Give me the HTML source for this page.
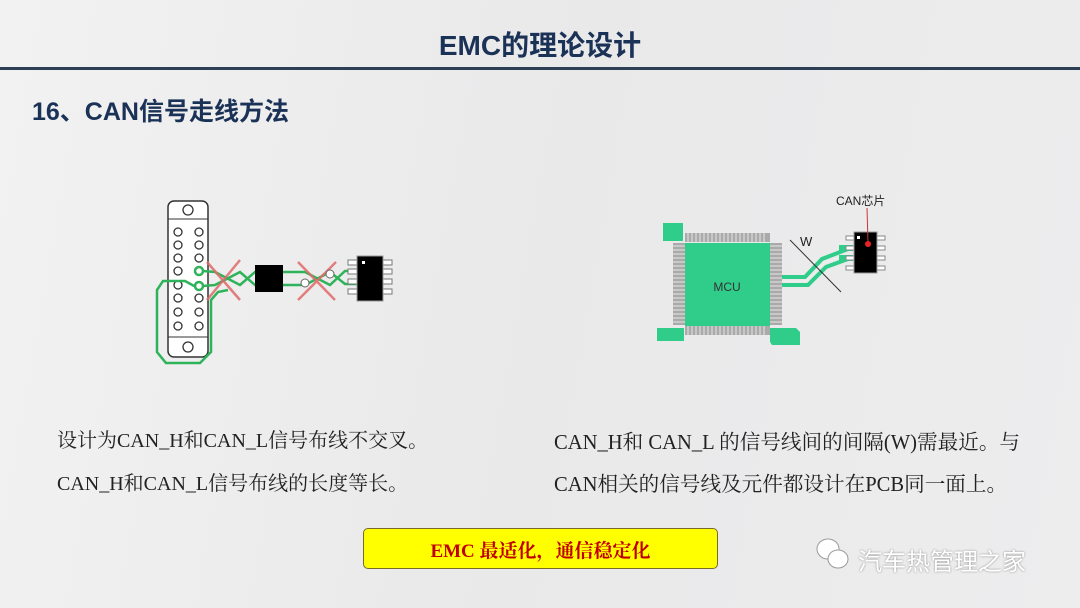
<!DOCTYPE html>
<html><head><meta charset="utf-8"><style>
body{margin:0;width:1080px;height:608px;overflow:hidden;background:linear-gradient(100deg,#f2f2f2 0%,#e9e9ea 50%,#ededee 100%);position:relative;font-family:"Liberation Sans","Noto Sans CJK SC",sans-serif}
.t{position:absolute;white-space:nowrap}
.ser{font-family:"Liberation Serif","Noto Serif CJK SC",serif;font-size:20px;color:#222}
</style></head><body>
<div class="t" style="left:0;width:1080px;top:24px;text-align:center;font-size:28px;font-weight:bold;color:#1b3257">EMC的理论设计</div>
<div style="position:absolute;left:0;top:67px;width:1080px;height:3px;background:#2d3f55"></div>
<div class="t" style="left:32px;top:92px;font-size:25px;font-weight:bold;color:#1b3257">16、CAN信号走线方法</div>
<div class="t ser" style="left:57px;top:424px">设计为CAN_H和CAN_L信号布线不交叉。</div>
<div class="t ser" style="left:57px;top:467px">CAN_H和CAN_L信号布线的长度等长。</div>
<div class="t ser" style="left:554px;top:425px;font-size:20.6px">CAN_H和 CAN_L 的信号线间的间隔(W)需最近。与</div>
<div class="t ser" style="left:554px;top:467px;font-size:20.6px">CAN相关的信号线及元件都设计在PCB同一面上。</div>
<div style="position:absolute;left:363px;top:528px;width:355px;height:41px;background:#ffff00;border:1px solid #7a6a2a;border-radius:5px;box-sizing:border-box"></div>
<div class="t" style="left:363px;top:536px;width:355px;text-align:center;font-family:'Liberation Serif','Noto Serif CJK SC',serif;font-size:19px;font-weight:bold;color:#c00000">EMC 最适化，通信稳定化</div>
<div class="t" style="left:858px;top:542px;font-size:24px;color:#fff;text-shadow:0 0 2px #888">汽车热管理之家</div>
<svg style="position:absolute;left:0;top:0" width="1080" height="608">
<g fill="#fff" stroke="#999" stroke-width="1"><ellipse cx="828" cy="549" rx="11" ry="10"/><ellipse cx="838" cy="559" rx="10" ry="9"/></g>
<rect x="168" y="201" width="40" height="156" rx="6" fill="#fff" stroke="#333" stroke-width="1.5"/>
<line x1="168" y1="219" x2="208" y2="219" stroke="#333"/><line x1="168" y1="337" x2="208" y2="337" stroke="#333"/>
<g fill="none" stroke="#333" stroke-width="1.3">
<circle cx="188" cy="210" r="5"/><circle cx="188" cy="347" r="5"/>
<circle cx="178" cy="232" r="4"/><circle cx="199" cy="232" r="4"/>
<circle cx="178" cy="245" r="4"/><circle cx="199" cy="245" r="4"/>
<circle cx="178" cy="258" r="4"/><circle cx="199" cy="258" r="4"/>
<circle cx="178" cy="271" r="4"/>
<circle cx="178" cy="285" r="4"/>
<circle cx="178" cy="298" r="4"/><circle cx="199" cy="298" r="4"/>
<circle cx="178" cy="312" r="4"/><circle cx="199" cy="312" r="4"/>
<circle cx="178" cy="326" r="4"/><circle cx="199" cy="326" r="4"/>
</g>
<g fill="none" stroke="#2fb35a" stroke-width="2.5">
<circle cx="199" cy="271" r="4"/><circle cx="199" cy="286" r="4"/>
<path d="M203 271 L215 272 L240 285 L255 272 L290 272 L305 272 L330 285 L345 271 L357 271"/>
<path d="M203 286 L215 285 L240 272 L255 285 L290 285 L305 285 L330 272 L345 284 L357 284"/>
<path d="M196 287 L185 281 L163 281 L157 290 L157 352 L166 363 L200 363 L211 352 L211 300 L218 292 L228 290"/>
</g>
<g stroke="#e06a6a" stroke-width="2.5" opacity="0.85"><line x1="207" y1="262" x2="240" y2="300"/><line x1="240" y1="260" x2="207" y2="300"/><line x1="298" y1="262" x2="335" y2="300"/><line x1="336" y1="262" x2="298" y2="300"/></g>
<g fill="#fff" stroke="#666"><circle cx="330" cy="274" r="4"/><circle cx="305" cy="283" r="4"/></g>
<rect x="255" y="265" width="28" height="27" fill="#000"/>
<g fill="#fff" stroke="#777"><rect x="348" y="260" width="9" height="5"/><rect x="348" y="269" width="9" height="5"/><rect x="348" y="279" width="9" height="5"/><rect x="348" y="289" width="9" height="5"/><rect x="383" y="260" width="9" height="5"/><rect x="383" y="269" width="9" height="5"/><rect x="383" y="279" width="9" height="5"/><rect x="383" y="289" width="9" height="5"/></g>
<rect x="357" y="256" width="26" height="45" fill="#000" stroke="#999"/>
<rect x="362" y="261" width="3" height="3" fill="#fff"/>
<g fill="#aaa"><rect x="685" y="233" width="85" height="9"/><rect x="685" y="326" width="85" height="9"/><rect x="673" y="243" width="12" height="82"/><rect x="770" y="243" width="12" height="82"/></g>
<g stroke="#e6e6e6" stroke-width="1">
<path d="M688 233v9M692 233v9M696 233v9M700 233v9M704 233v9M708 233v9M712 233v9M716 233v9M720 233v9M724 233v9M728 233v9M732 233v9M736 233v9M740 233v9M744 233v9M748 233v9M752 233v9M756 233v9M760 233v9M764 233v9"/>
<path d="M688 326v9M692 326v9M696 326v9M700 326v9M704 326v9M708 326v9M712 326v9M716 326v9M720 326v9M724 326v9M728 326v9M732 326v9M736 326v9M740 326v9M744 326v9M748 326v9M752 326v9M756 326v9M760 326v9M764 326v9"/>
<path d="M673 246h12M673 250h12M673 254h12M673 258h12M673 262h12M673 266h12M673 270h12M673 274h12M673 278h12M673 282h12M673 286h12M673 290h12M673 294h12M673 298h12M673 302h12M673 306h12M673 310h12M673 314h12M673 318h12M673 322h12"/>
<path d="M770 246h12M770 250h12M770 254h12M770 258h12M770 262h12M770 266h12M770 270h12M770 274h12M770 278h12M770 282h12M770 286h12M770 290h12M770 294h12M770 298h12M770 302h12M770 306h12M770 310h12M770 314h12M770 318h12M770 322h12"/>
</g>
<g fill="#2fcc8a"><rect x="685" y="243" width="85" height="83"/><rect x="663" y="223" width="20" height="18"/><rect x="657" y="328" width="27" height="13"/><path d="M770 328h26l4 4v13h-28l-2-3z"/></g>
<text x="727" y="291" text-anchor="middle" font-size="12" fill="#333" font-family="Liberation Sans,sans-serif">MCU</text>
<path d="M782 277 L805 277 L822 259 L848 249" fill="none" stroke="#2fcc8a" stroke-width="4"/>
<path d="M782 285 L808 285 L826 267 L848 259" fill="none" stroke="#2fcc8a" stroke-width="4"/>
<path d="M784 281 L806 281 L824 263 L848 254" fill="none" stroke="#eee" stroke-width="1.5"/>
<rect x="839" y="245" width="14" height="6" fill="#2fcc8a"/><rect x="839" y="255" width="14" height="6" fill="#2fcc8a"/>
<line x1="790" y1="240" x2="841" y2="292" stroke="#333" stroke-width="1"/>
<text x="800" y="246" font-size="13" fill="#222" font-family="Liberation Sans,sans-serif">W</text>
<g fill="#fff" stroke="#888"><rect x="846" y="236" width="8" height="4"/><rect x="846" y="246" width="8" height="4"/><rect x="846" y="256" width="8" height="4"/><rect x="846" y="266" width="8" height="4"/><rect x="877" y="236" width="8" height="4"/><rect x="877" y="246" width="8" height="4"/><rect x="877" y="256" width="8" height="4"/><rect x="877" y="266" width="8" height="4"/></g>
<rect x="854" y="232" width="23" height="41" fill="#000" stroke="#999"/>
<rect x="857" y="236" width="3" height="3" fill="#fff"/>
<line x1="867" y1="208" x2="868" y2="243" stroke="#c33"/>
<circle cx="868" cy="244" r="3" fill="#e22"/>
<text x="836" y="205" font-size="12" fill="#222" font-family="Liberation Sans,Noto Sans CJK SC,sans-serif">CAN芯片</text>
</svg>
</body></html>
